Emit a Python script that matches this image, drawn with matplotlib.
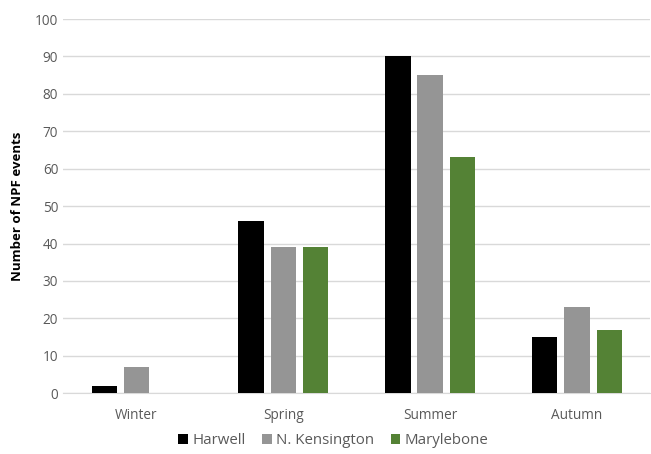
import numpy as np
import matplotlib
matplotlib.use("Agg")
import matplotlib.pyplot as plt

plt.rcParams['font.family'] = ['Open Sans', 'DejaVu Sans']

seasons = ["Winter", "Spring", "Summer", "Autumn"]
harwell = [2, 46, 90, 15]
kensington = [7, 39, 85, 23]
marylebone = [0, 39, 63, 17]
series_names = ["Harwell", "N. Kensington", "Marylebone"]
colors = ["#000000", "#959595", "#548235"]

fig = plt.figure(figsize=(6.51, 4.54), dpi=100)
ax = fig.add_axes([0.097, 0.134, 0.902, 0.824])

x = np.arange(len(seasons))
w = 0.173
pitch = 0.22
for i, (vals, name, c) in enumerate(zip([harwell, kensington, marylebone], series_names, colors)):
    ax.bar(x + (i - 1) * pitch, vals, width=w, color=c, label=name, zorder=3)

ax.set_xlim(-0.5, 3.5)
ax.set_ylim(0, 100)
ax.set_yticks(range(0, 101, 10))
ax.set_xticks(x)
ax.set_xticklabels(seasons)
ax.grid(axis="y", color="#d9d9d9", linewidth=1, zorder=0)
for s in ["top", "right", "left"]:
    ax.spines[s].set_visible(False)
ax.spines["bottom"].set_color("#d9d9d9")
ax.tick_params(axis="both", length=0, colors="#595959", labelsize=9.8)
ax.tick_params(axis="x", pad=11)
ax.set_ylabel("Number of NPF events", fontsize=9.5, fontweight="bold", labelpad=8)

fig.legend(loc="center", bbox_to_anchor=(0.512, 0.03), ncol=3, frameon=False,
           fontsize=10.8, handlelength=0.65, handleheight=0.65, handletextpad=0.3,
           columnspacing=1.1, labelcolor="#595959")

fig.savefig("out.png", dpi=100)
